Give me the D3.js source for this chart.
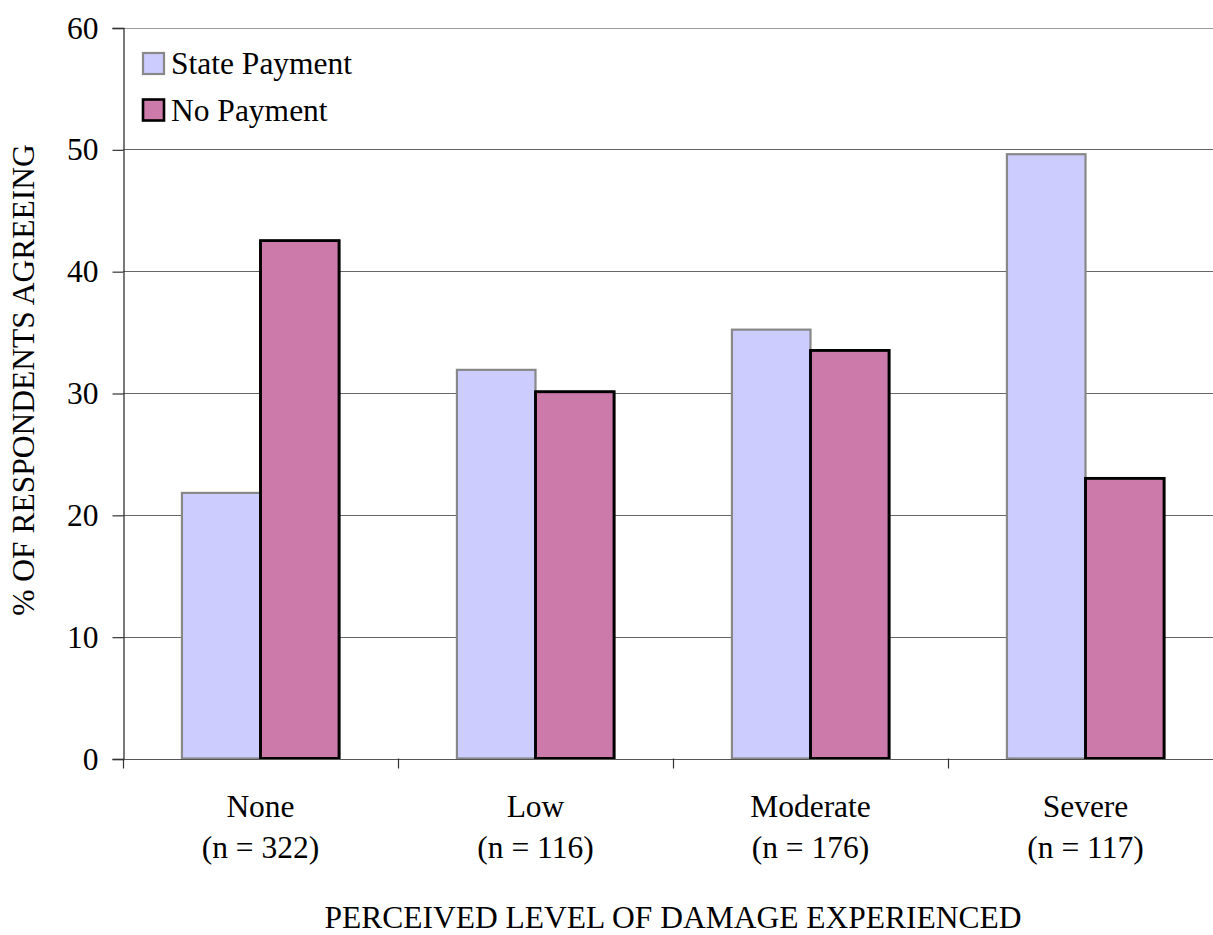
<!DOCTYPE html>
<html>
<head>
<meta charset="utf-8">
<script src="https://cdn.jsdelivr.net/npm/d3@7"></script>
<style>
  html, body { margin: 0; padding: 0; background: #fff; }
  svg { display: block; }
</style>
</head>
<body>
<svg id="chart" width="1213" height="935"></svg>
<script>
// Damage categories and their sample sizes
const categories = ["None", "Low", "Moderate", "Severe"];
const sampleSizes = [322, 116, 176, 117];

// % of respondents agreeing, per payment group
const seriesNames = ["State Payment", "No Payment"];
const statePayment = [21.8, 31.9, 35.2, 49.6];
const noPayment = [42.5, 30.1, 33.5, 23.0];

const yTicks = [0, 10, 20, 30, 40, 50, 60];

const fills = ["#CCCCFF", "#CC7AAA"];
const strokes = ["#888888", "#000000"];
const strokeWidths = [2.2, 2.6];

const FONT = "'Liberation Serif', 'Times New Roman', serif";
const fontSize = 31.5;

const svg = d3.select("#chart")
  .attr("font-family", FONT)
  .attr("font-size", fontSize);
const W = 1213;
const plot = { left: 123, right: 1223, top: 27.5, bottom: 758.5 };

// Band per category; bars fill the band, with 150% gap between groups
const gapRatio = 1.5 / 3.5;
const x0 = d3.scaleBand()
  .domain(categories)
  .range([plot.left, plot.right])
  .paddingInner(gapRatio)
  .paddingOuter(gapRatio / 2);

const x1 = d3.scaleBand()
  .domain(seriesNames)
  .range([0, x0.bandwidth()])
  .padding(0);

const y = d3.scaleLinear().domain([0, 60]).range([plot.bottom, plot.top]);

// Horizontal gridlines
svg.append("g")
  .selectAll("line")
  .data(yTicks.filter(t => t > 0))
  .join("line")
  .attr("x1", plot.left)
  .attr("x2", W)
  .attr("y1", d => Math.round(y(d)) + 0.5)
  .attr("y2", d => Math.round(y(d)) + 0.5)
  .attr("stroke", d => d === 60 ? "#9a9a9a" : "#666")
  .attr("stroke-width", 1.2);

// Y axis with outward ticks
const yAxis = d3.axisLeft(y).tickValues(yTicks).tickSize(11).tickPadding(14).tickFormat(d3.format("d"));
const yG = svg.append("g")
  .attr("transform", `translate(${plot.left + 0.5},0.5)`)
  .call(yAxis)
  .attr("font-family", FONT)
  .attr("font-size", fontSize);
yG.select(".domain").attr("stroke", "#333").attr("stroke-width", 1.3);
yG.selectAll(".tick line").attr("stroke", "#333").attr("stroke-width", 1.2);
yG.selectAll(".tick text").attr("fill", "#000");

// Bars
const data = categories.map((c, i) => ({
  cat: c,
  values: [
    { key: seriesNames[0], v: statePayment[i], s: 0 },
    { key: seriesNames[1], v: noPayment[i], s: 1 }
  ]
}));

const groups = svg.append("g")
  .selectAll("g")
  .data(data)
  .join("g")
  .attr("transform", d => `translate(${x0(d.cat)},0)`);

groups.selectAll("rect")
  .data(d => d.values)
  .join("rect")
  .attr("x", d => x1(d.key))
  .attr("width", x1.bandwidth())
  .attr("y", d => y(d.v))
  .attr("height", d => y(0) - y(d.v))
  .attr("fill", d => fills[d.s])
  .attr("stroke", d => strokes[d.s])
  .attr("stroke-width", d => strokeWidths[d.s]);

// Redraw the dark edge of the No Payment bars on top of their neighbours
groups.selectAll("rect.np")
  .data(d => d.values.filter(v => v.s === 1))
  .join("rect")
  .attr("class", "np")
  .attr("x", d => x1(d.key))
  .attr("width", x1.bandwidth())
  .attr("y", d => y(d.v))
  .attr("height", d => y(0) - y(d.v))
  .attr("fill", "none")
  .attr("stroke", "#000")
  .attr("stroke-width", strokeWidths[1]);

// X baseline and category boundary ticks
const step = x0.step();
svg.append("line")
  .attr("x1", plot.left)
  .attr("x2", W)
  .attr("y1", Math.round(y(0)) + 0.5)
  .attr("y2", Math.round(y(0)) + 0.5)
  .attr("stroke", "#555")
  .attr("stroke-width", 1.2);

svg.append("g")
  .selectAll("line")
  .data(d3.range(categories.length + 1))
  .join("line")
  .attr("x1", i => Math.round(plot.left + i * step) + 0.5)
  .attr("x2", i => Math.round(plot.left + i * step) + 0.5)
  .attr("y1", y(0))
  .attr("y2", y(0) + 10)
  .attr("stroke", "#333")
  .attr("stroke-width", 1.2);

// Category labels with sample size
const catLabels = svg.append("g")
  .selectAll("text")
  .data(categories)
  .join("text")
  .attr("text-anchor", "middle");
catLabels.append("tspan")
  .attr("x", d => x0(d) + x0.bandwidth() / 2)
  .attr("y", 817)
  .text(d => d);
catLabels.append("tspan")
  .attr("x", d => x0(d) + x0.bandwidth() / 2)
  .attr("y", 858)
  .text((d, i) => `(n = ${sampleSizes[i]})`);

// Axis titles
svg.append("text")
  .attr("x", (plot.left + plot.right) / 2)
  .attr("y", 928)
  .attr("text-anchor", "middle")
  .text("PERCEIVED LEVEL OF DAMAGE EXPERIENCED");

svg.append("text")
  .attr("transform", "translate(34,380) rotate(-90)")
  .attr("text-anchor", "middle")
  .text("% OF RESPONDENTS AGREEING");

// Legend
const legend = svg.append("g")
  .selectAll("g")
  .data(seriesNames)
  .join("g")
  .attr("transform", (d, i) => `translate(143,${53 + i * 46.5})`);
legend.append("rect")
  .attr("width", 21)
  .attr("height", 21)
  .attr("fill", (d, i) => fills[i])
  .attr("stroke", (d, i) => strokes[i])
  .attr("stroke-width", (d, i) => strokeWidths[i]);
legend.append("text")
  .attr("x", 28)
  .attr("y", 21)
  .text(d => d);
</script>
</body>
</html>
